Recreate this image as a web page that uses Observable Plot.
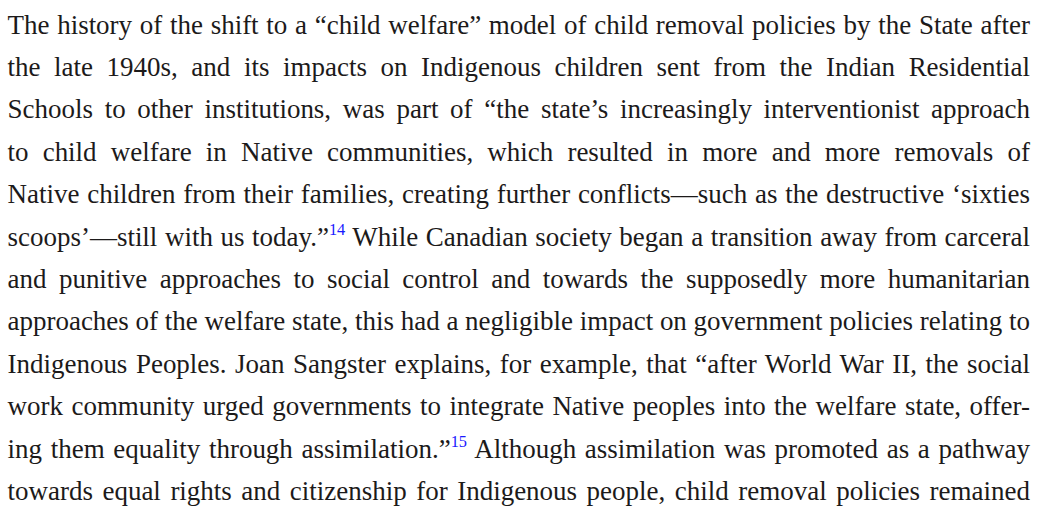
<!DOCTYPE html>
<html>
<head>
<meta charset="utf-8">
<script src="https://cdn.jsdelivr.net/npm/d3@7"></script>
<script src="https://cdn.jsdelivr.net/npm/@observablehq/plot@0.6"></script>
<style>
  html, body { margin: 0; padding: 0; background: #ffffff; overflow: hidden; }
  #chart svg { display: block; }
</style>
</head>
<body>
<div id="chart"></div>
<script>
// Text lines of the page (superscript note numbers written as {n})
const lineTexts = [
  "The history of the shift to a “child welfare” model of child removal policies by the State after",
  "the late 1940s, and its impacts on Indigenous children sent from the Indian Residential",
  "Schools to other institutions, was part of “the state’s increasingly interventionist approach",
  "to child welfare in Native communities, which resulted in more and more removals of",
  "Native children from their families, creating further conflicts—such as the destructive ‘sixties",
  "scoops’—still with us today.”{14} While Canadian society began a transition away from carceral",
  "and punitive approaches to social control and towards the supposedly more humanitarian",
  "approaches of the welfare state, this had a negligible impact on government policies relating to",
  "Indigenous Peoples. Joan Sangster explains, for example, that “after World War II, the social",
  "work community urged governments to integrate Native peoples into the welfare state, offer-",
  "ing them equality through assimilation.”{15} Although assimilation was promoted as a pathway",
  "towards equal rights and citizenship for Indigenous people, child removal policies remained"
];
const lineNumbers = lineTexts.map((_, i) => i);
const noteNumbers = ["14", "15"];

const textColor = "#1c1a1a";
const noteColor = "#1a1aff";

const rows = lineNumbers.map(i => ({line: i, text: lineTexts[i]}));

const plot = Plot.plot({
  width: 1040,
  height: 509,
  margin: 0,
  x: {domain: [0, 1], range: [7, 1030], axis: null},
  y: {domain: [0, lineTexts.length - 1], range: [33, 499.5], axis: null},
  style: {fontFamily: "'Liberation Serif', 'DejaVu Serif', serif", background: "#ffffff", color: textColor},
  marks: [
    Plot.text(rows, {
      x: () => 0,
      y: "line",
      text: "text",
      textAnchor: "start",
      lineAnchor: "bottom",
      fontSize: 28,
      fill: textColor
    })
  ]
});

document.getElementById("chart").append(plot);

// Superscript note numbers as blue tspans, then justify every line
const ns = "http://www.w3.org/2000/svg";
const textEls = Array.from(plot.querySelectorAll('g[aria-label="text"] text'));
textEls.forEach(t => {
  const raw = t.textContent;
  t.textContent = "";
  let afterSup = false;
  raw.split(/\{(\d+)\}/).forEach((seg, k) => {
    if (!seg) return;
    const ts = document.createElementNS(ns, "tspan");
    ts.textContent = seg;
    if (k % 2 === 1 && noteNumbers.includes(seg)) {
      ts.setAttribute("font-size", "17");
      ts.setAttribute("fill", noteColor);
      ts.setAttribute("dy", "-11");
      afterSup = true;
    } else if (afterSup) {
      ts.setAttribute("dy", "11");
      afterSup = false;
    }
    t.append(ts);
  });
});

const target = 1030 - 7;
const natural = textEls.map(t => t.getComputedTextLength());
const sx = target / d3.max(natural);
textEls.forEach((t, i) => {
  const spaces = (t.textContent.match(/ /g) || []).length;
  const ws = spaces ? (target / sx - natural[i]) / spaces : 0;
  t.style.wordSpacing = ws + "px";
  const tr = t.getAttribute("transform") || "";
  t.setAttribute("transform", tr + ` scale(${sx},1)`);
});
</script>
</body>
</html>
